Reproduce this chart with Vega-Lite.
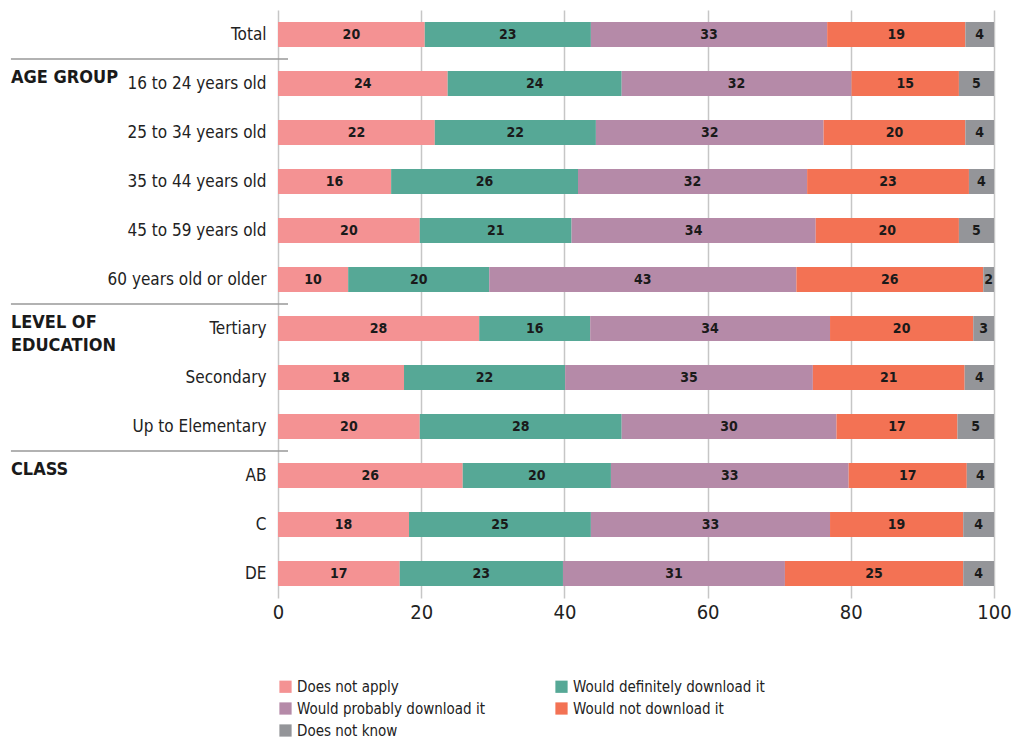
{
  "$schema": "https://vega.github.io/schema/vega-lite/v6.json",
  "width": 716,
  "height": 588,
  "padding": {"left": 10, "top": 10, "right": 10, "bottom": 5},
  "config": {
    "font": "DejaVu Sans Condensed, Roboto, sans-serif",
    "view": {"stroke": null}
  },
  "datasets": {
    "bars": [
      {"row": "Total", "resp": "Does not apply", "k": 1, "value": 20.5, "label": 20},
      {"row": "Total", "resp": "Would definitely download it", "k": 2, "value": 23.2, "label": 23},
      {"row": "Total", "resp": "Would probably download it", "k": 3, "value": 33.0, "label": 33},
      {"row": "Total", "resp": "Would not download it", "k": 4, "value": 19.3, "label": 19},
      {"row": "Total", "resp": "Does not know", "k": 5, "value": 4.0, "label": 4},
      {"row": "16 to 24 years old", "resp": "Does not apply", "k": 1, "value": 23.7, "label": 24},
      {"row": "16 to 24 years old", "resp": "Would definitely download it", "k": 2, "value": 24.3, "label": 24},
      {"row": "16 to 24 years old", "resp": "Would probably download it", "k": 3, "value": 32.1, "label": 32},
      {"row": "16 to 24 years old", "resp": "Would not download it", "k": 4, "value": 15.0, "label": 15},
      {"row": "16 to 24 years old", "resp": "Does not know", "k": 5, "value": 4.9, "label": 5},
      {"row": "25 to 34 years old", "resp": "Does not apply", "k": 1, "value": 21.9, "label": 22},
      {"row": "25 to 34 years old", "resp": "Would definitely download it", "k": 2, "value": 22.5, "label": 22},
      {"row": "25 to 34 years old", "resp": "Would probably download it", "k": 3, "value": 31.8, "label": 32},
      {"row": "25 to 34 years old", "resp": "Would not download it", "k": 4, "value": 19.8, "label": 20},
      {"row": "25 to 34 years old", "resp": "Does not know", "k": 5, "value": 4.0, "label": 4},
      {"row": "35 to 44 years old", "resp": "Does not apply", "k": 1, "value": 15.8, "label": 16},
      {"row": "35 to 44 years old", "resp": "Would definitely download it", "k": 2, "value": 26.1, "label": 26},
      {"row": "35 to 44 years old", "resp": "Would probably download it", "k": 3, "value": 32.0, "label": 32},
      {"row": "35 to 44 years old", "resp": "Would not download it", "k": 4, "value": 22.6, "label": 23},
      {"row": "35 to 44 years old", "resp": "Does not know", "k": 5, "value": 3.5, "label": 4},
      {"row": "45 to 59 years old", "resp": "Does not apply", "k": 1, "value": 19.8, "label": 20},
      {"row": "45 to 59 years old", "resp": "Would definitely download it", "k": 2, "value": 21.2, "label": 21},
      {"row": "45 to 59 years old", "resp": "Would probably download it", "k": 3, "value": 34.1, "label": 34},
      {"row": "45 to 59 years old", "resp": "Would not download it", "k": 4, "value": 20.0, "label": 20},
      {"row": "45 to 59 years old", "resp": "Does not know", "k": 5, "value": 4.9, "label": 5},
      {"row": "60 years old or older", "resp": "Does not apply", "k": 1, "value": 9.8, "label": 10},
      {"row": "60 years old or older", "resp": "Would definitely download it", "k": 2, "value": 19.7, "label": 20},
      {"row": "60 years old or older", "resp": "Would probably download it", "k": 3, "value": 42.9, "label": 43},
      {"row": "60 years old or older", "resp": "Would not download it", "k": 4, "value": 26.1, "label": 26},
      {"row": "60 years old or older", "resp": "Does not know", "k": 5, "value": 1.5, "label": 2},
      {"row": "Tertiary", "resp": "Does not apply", "k": 1, "value": 28.1, "label": 28},
      {"row": "Tertiary", "resp": "Would definitely download it", "k": 2, "value": 15.5, "label": 16},
      {"row": "Tertiary", "resp": "Would probably download it", "k": 3, "value": 33.5, "label": 34},
      {"row": "Tertiary", "resp": "Would not download it", "k": 4, "value": 20.0, "label": 20},
      {"row": "Tertiary", "resp": "Does not know", "k": 5, "value": 2.9, "label": 3},
      {"row": "Secondary", "resp": "Does not apply", "k": 1, "value": 17.6, "label": 18},
      {"row": "Secondary", "resp": "Would definitely download it", "k": 2, "value": 22.5, "label": 22},
      {"row": "Secondary", "resp": "Would probably download it", "k": 3, "value": 34.6, "label": 35},
      {"row": "Secondary", "resp": "Would not download it", "k": 4, "value": 21.2, "label": 21},
      {"row": "Secondary", "resp": "Does not know", "k": 5, "value": 4.1, "label": 4},
      {"row": "Up to Elementary", "resp": "Does not apply", "k": 1, "value": 19.8, "label": 20},
      {"row": "Up to Elementary", "resp": "Would definitely download it", "k": 2, "value": 28.2, "label": 28},
      {"row": "Up to Elementary", "resp": "Would probably download it", "k": 3, "value": 30.0, "label": 30},
      {"row": "Up to Elementary", "resp": "Would not download it", "k": 4, "value": 16.9, "label": 17},
      {"row": "Up to Elementary", "resp": "Does not know", "k": 5, "value": 5.1, "label": 5},
      {"row": "AB", "resp": "Does not apply", "k": 1, "value": 25.8, "label": 26},
      {"row": "AB", "resp": "Would definitely download it", "k": 2, "value": 20.7, "label": 20},
      {"row": "AB", "resp": "Would probably download it", "k": 3, "value": 33.2, "label": 33},
      {"row": "AB", "resp": "Would not download it", "k": 4, "value": 16.5, "label": 17},
      {"row": "AB", "resp": "Does not know", "k": 5, "value": 3.8, "label": 4},
      {"row": "C", "resp": "Does not apply", "k": 1, "value": 18.3, "label": 18},
      {"row": "C", "resp": "Would definitely download it", "k": 2, "value": 25.4, "label": 25},
      {"row": "C", "resp": "Would probably download it", "k": 3, "value": 33.4, "label": 33},
      {"row": "C", "resp": "Would not download it", "k": 4, "value": 18.6, "label": 19},
      {"row": "C", "resp": "Does not know", "k": 5, "value": 4.3, "label": 4},
      {"row": "DE", "resp": "Does not apply", "k": 1, "value": 17.0, "label": 17},
      {"row": "DE", "resp": "Would definitely download it", "k": 2, "value": 22.8, "label": 23},
      {"row": "DE", "resp": "Would probably download it", "k": 3, "value": 31.0, "label": 31},
      {"row": "DE", "resp": "Would not download it", "k": 4, "value": 24.9, "label": 25},
      {"row": "DE", "resp": "Does not know", "k": 5, "value": 4.3, "label": 4}
    ],
    "groups": [
      {"row": "16 to 24 years old", "group": "AGE GROUP"},
      {"row": "Tertiary", "group": "LEVEL OF\nEDUCATION"},
      {"row": "AB", "group": "CLASS"}
    ]
  },
  "layer": [
    {
      "data": {"name": "bars"},
      "mark": {"type": "bar", "height": {"band": 0.51}},
      "encoding": {
        "y": {
          "field": "row", "type": "nominal",
          "scale": {"domain": ["Total", "16 to 24 years old", "25 to 34 years old", "35 to 44 years old", "45 to 59 years old", "60 years old or older", "Tertiary", "Secondary", "Up to Elementary", "AB", "C", "DE"], "paddingInner": 0, "paddingOuter": 0},
          "axis": {"title": null, "domain": false, "ticks": false, "labelFontSize": 17, "labelColor": "#222", "labelPadding": 12, "labelLimit": 300}
        },
        "x": {
          "field": "value", "type": "quantitative", "stack": "zero",
          "scale": {"domain": [0, 100], "nice": false},
          "axis": {"title": null, "values": [0, 20, 40, 60, 80, 100], "domain": false, "ticks": false, "grid": true, "gridColor": "#c6c6c6", "gridWidth": 1.5, "labelFontSize": 20, "labelColor": "#222", "labelPadding": 4, "labelFlush": false}
        },
        "color": {
          "field": "resp", "type": "nominal",
          "scale": {"domain": ["Does not apply", "Would definitely download it", "Would probably download it", "Would not download it", "Does not know"], "range": ["#f49293", "#56a896", "#b58aa8", "#f37254", "#949599"]},
          "legend": {"title": null, "orient": "bottom", "columns": 2, "symbolType": "square", "symbolSize": 150, "symbolStrokeWidth": 0, "labelFontSize": 15, "labelColor": "#222", "columnPadding": 69, "rowPadding": 6, "labelLimit": 400, "offset": 57}
        },
        "order": {"field": "k", "type": "quantitative"}
      }
    },
    {
      "data": {"name": "bars"},
      "transform": [
        {"stack": "value", "groupby": ["row"], "sort": [{"field": "k", "order": "ascending"}], "as": ["x0", "x1"]},
        {"calculate": "(datum.x0 + datum.x1) / 2", "as": "xmid"}
      ],
      "mark": {"type": "text", "fontSize": 14, "fontWeight": "bold", "color": "#1a1a1a", "baseline": "middle"},
      "encoding": {
        "y": {"field": "row", "type": "nominal"},
        "x": {"field": "xmid", "type": "quantitative"},
        "text": {"field": "label", "type": "quantitative"}
      }
    },
    {
      "data": {"name": "groups"},
      "mark": {"type": "rule", "color": "#999999", "strokeWidth": 1.5, "clip": false},
      "encoding": {
        "y": {"field": "row", "type": "nominal", "bandPosition": 0},
        "x": {"datum": -37.3, "type": "quantitative"},
        "x2": {"datum": 1.4}
      }
    },
    {
      "data": {"name": "groups"},
      "mark": {"type": "text", "align": "left", "baseline": "top", "fontSize": 18, "fontWeight": "bold", "color": "#1a1a1a", "lineBreak": "\n", "lineHeight": 23, "clip": false},
      "encoding": {
        "y": {"field": "row", "type": "nominal", "bandPosition": 0.2},
        "x": {"datum": -37.3, "type": "quantitative"},
        "text": {"field": "group", "type": "nominal"}
      }
    }
  ]
}
